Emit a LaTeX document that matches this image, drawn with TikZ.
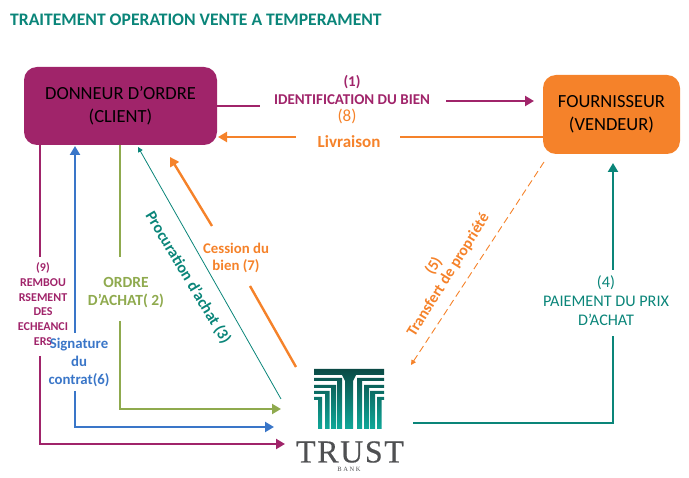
\documentclass[tikz,border=0pt]{standalone}
\usepackage{fontspec}
\setmainfont{Carlito}
\newfontfamily\logofont[FakeBold=0.4,LetterSpace=5]{Liberation Serif}
\newfontfamily\logosmall[LetterSpace=25]{Liberation Serif}
\usetikzlibrary{arrows.meta}
\definecolor{cmag}{HTML}{A0246A}
\definecolor{corg}{HTML}{F5822A}
\definecolor{cgrn}{HTML}{8FAA4E}
\definecolor{cblu}{HTML}{3A76C8}
\definecolor{ctel}{HTML}{0A8579}
\definecolor{cgry}{HTML}{4F5052}
\definecolor{logotop}{HTML}{0A4A45}
\definecolor{logobot}{HTML}{0FA899}
\tikzset{
  box/.style={rounded corners=13pt,minimum height=78pt,align=center,font=\fontsize{18.5}{22.5}\selectfont,text=black,inner sep=0pt},
  lab/.style={align=center,inner sep=0pt},
  wire/.style={line width=2.4pt},
  tip/.style={-{Triangle[length=9pt,width=10pt]}},
  smalltip/.style={-{Triangle[length=5pt,width=5pt]}}
}
\begin{document}
\begin{tikzpicture}[x=1pt,y=-1pt]
\useasboundingbox (0,0) rectangle (689,478);
\node[anchor=west,inner sep=0pt,text=ctel,font=\fontsize{17.6}{20}\selectfont\bfseries] (title) at (10,20) {TRAITEMENT OPERATION VENTE A TEMPERAMENT};
\node[box,fill=cmag,minimum width=193pt] (client) at (120.5,106) {DONNEUR D’ORDRE\\(CLIENT)};
\node[box,fill=corg,minimum width=137pt,minimum height=79pt] (vendeur) at (611.5,114.5) {FOURNISSEUR\\(VENDEUR)};

% labels
\node[lab,text=cmag,font=\fontsize{15}{18}\selectfont\bfseries] (l1) at (352,90) {(1)\\IDENTIFICATION DU BIEN};
\node[lab,text=corg,font=\fontsize{17}{18}\selectfont] (l8) at (347,116) {(8)};
\node[lab,text=corg,font=\fontsize{17}{18}\selectfont\bfseries] (liv) at (349,142) {Livraison};
\node[lab,text=corg,font=\fontsize{14.8}{17.5}\selectfont\bfseries] (l7) at (236,258) {Cession du\\bien (7)};
\node[lab,text=cgrn,font=\fontsize{15.5}{18}\selectfont\bfseries] (l2) at (126,293) {ORDRE\\D’ACHAT( 2)};
\node[lab,text=cmag,font=\fontsize{12}{14.8}\selectfont\bfseries] (l9) at (43,304) {(9)\\REMBOU\\RSEMENT\\DES\\ECHEANCI\\ERS};
\node[lab,text=cblu,font=\fontsize{14.8}{18}\selectfont\bfseries] (l6) at (79,362) {Signature\\du\\contrat(6)};
\node[lab,text=ctel,font=\fontsize{16.2}{19}\selectfont] (l4) at (606,301) {(4)\\PAIEMENT DU PRIX\\D’ACHAT};
\node[lab,text=ctel,rotate=-59,font=\fontsize{16}{18}\selectfont\bfseries] (l3) at (188,278) {Procuration d'achat (3)};
\node[lab,text=corg,rotate=58,font=\fontsize{15.6}{17}\selectfont\bfseries] (l5) at (441,270.5) {(5)\\Transfert de propriété};

% logo
\node[inner sep=0pt,minimum width=74pt,minimum height=62pt] (bank) at (349,399) {};
\begin{scope}
\clip (314,369) rectangle (384,375)
      (342,375) -- (345,381) -- (345,429) -- (353,429) -- (353,381) -- (356,375) -- cycle
      (314,378) -- (342,378) -- (342,429) -- (337,429) -- (337,381) -- (314,381) -- cycle
      (314,385) -- (336,385) -- (336,429) -- (331,429) -- (331,388) -- (314,388) -- cycle
      (314,391) -- (329.5,391) -- (329.5,429) -- (325,429) -- (325,394) -- (314,394) -- cycle
      (314,397) -- (322,397) -- (322,429) -- (318,429) -- (318,400) -- (314,400) -- cycle
      (384,378) -- (357,378) -- (357,429) -- (362,429) -- (362,381) -- (384,381) -- cycle
      (384,385) -- (364,385) -- (364,429) -- (369,429) -- (369,388) -- (384,388) -- cycle
      (384,391) -- (370,391) -- (370,429) -- (375,429) -- (375,394) -- (384,394) -- cycle
      (384,397) -- (377,397) -- (377,429) -- (381.5,429) -- (381.5,400) -- (384,400) -- cycle;
\shade[top color=logotop,bottom color=logobot] (313,369) rectangle (385,429);
\end{scope}
\node[inner sep=0pt,text=cgry,font=\fontsize{32}{33}\selectfont\logofont] (trust) at (350,452) {TRUST};
\node[inner sep=0pt,text=cgry,font=\fontsize{6.5}{6}\selectfont\logosmall] (banktxt) at (349,469) {BANK};

% coordinates for wire ends
\coordinate (a1) at (260,106);
\coordinate (a2) at (446,101);
\coordinate (a3) at (534,101);
\coordinate (b1) at (400,137);
\coordinate (b2) at (296,137);
\coordinate (b3) at (218,137);
\coordinate (p1) at (40,257);
\coordinate (p2) at (40,356);
\coordinate (p3) at (40,444);
\coordinate (p4) at (285,444);
\coordinate (q1) at (75,333);
\coordinate (q0) at (75,146);
\coordinate (q2) at (75,391);
\coordinate (q3) at (75,427);
\coordinate (q4) at (274,427);
\coordinate (g1) at (120,257);
\coordinate (g2) at (120,321);
\coordinate (g3) at (120,409);
\coordinate (g4) at (281,409);
\coordinate (t1) at (281,399);
\coordinate (t2) at (138,147);
\coordinate (o1) at (296,367);
\coordinate (o2) at (250,286);
\coordinate (o3) at (212,226);
\coordinate (o4) at (170,157);
\coordinate (d1) at (544,162);
\coordinate (d2) at (411,365);
\coordinate (r1) at (413,423);
\coordinate (r2) at (613,423);
\coordinate (r3) at (613,336);
\coordinate (r4) at (613,270);
\coordinate (r5) at (613,163);

% wires
\draw[wire,cmag] (client.east |- a1) -- (a1);
\draw[wire,cmag,tip] (a2) -- (a3);
\draw[wire,corg] (vendeur.west |- b1) -- (b1);
\draw[wire,corg,tip] (b2) -- (b3);
\draw[wire,cmag] (client.south -| p1) -- (p1);
\draw[wire,cmag,tip] (p2) -- (p3) -- (p4);
\draw[wire,cblu,tip] (q1) -- (q0);
\draw[wire,cblu,tip] (q2) -- (q3) -- (q4);
\draw[wire,cgrn] (client.south -| g1) -- (g1);
\draw[wire,cgrn,tip] (g2) -- (g3) -- (g4);
\draw[ctel,line width=0.8pt,smalltip] (t1) -- (t2);
\draw[wire,corg] (o1) -- (o2);
\draw[wire,corg,tip] (o3) -- (o4);
\draw[corg,line width=0.9pt,dashed,dash pattern=on 7pt off 4pt,smalltip] (d1) -- (d2);
\draw[wire,ctel,line width=2.7pt] (r1) -- (r2) -- (r3);
\draw[wire,ctel,line width=2.7pt,tip] (r4) -- (r5);
\end{tikzpicture}
\end{document}
